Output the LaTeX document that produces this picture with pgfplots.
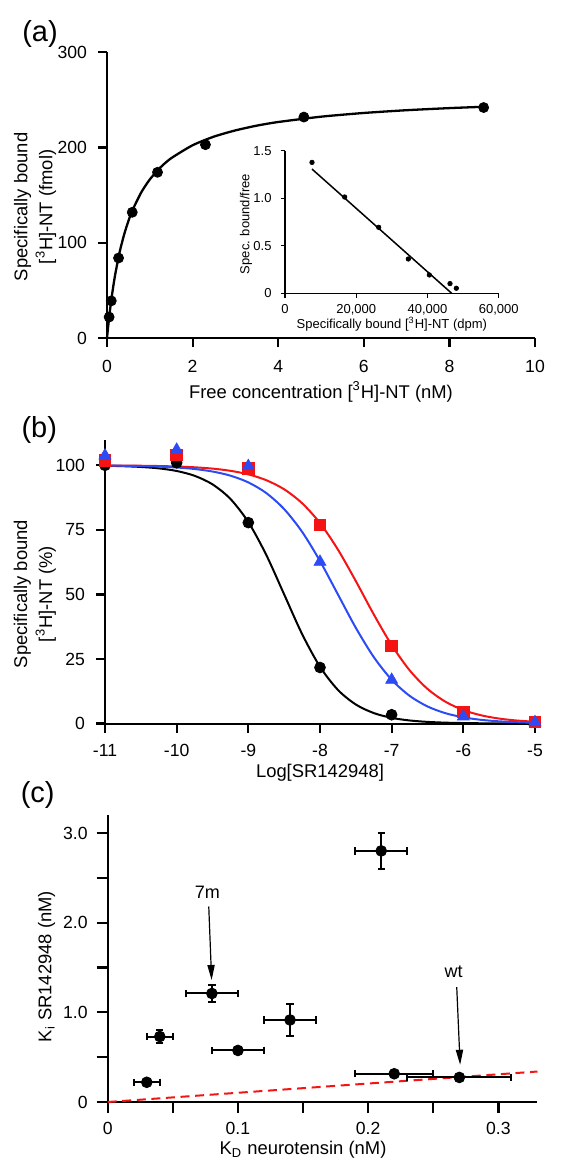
\documentclass[border=0pt]{standalone}
\usepackage{fontspec}
\setmainfont{Liberation Sans}
\usepackage{pgfplots}
\pgfplotsset{compat=1.18}
\usetikzlibrary{arrows.meta}

\definecolor{ntRed}{RGB}{245,20,20}
\definecolor{ntBlue}{RGB}{45,75,245}

\pgfplotsset{
  panel/.style={
    scale only axis,
    anchor=south west,
    axis lines=left,
    axis line style={-, line width=1pt},
    xtick align=outside, ytick align=outside,
    major tick length=4.5pt,
    minor tick num=0,
    major tick style={black, line width=1.1pt},
    tick label style={font=\fontsize{8.8}{10.5}\selectfont},
    label style={font=\fontsize{9.2}{12.5}\selectfont},
    clip=false,
  },
  inset/.style={
    scale only axis,
    anchor=south west,
    axis lines=left,
    axis line style={-, line width=0.65pt},
    xtick align=outside, ytick align=outside,
    major tick length=2.2pt,
    major tick style={black, line width=0.7pt},
    tick label style={font=\fontsize{6.5}{7.5}\selectfont},
    label style={font=\fontsize{6.5}{7.5}\selectfont},
    scaled ticks=false,
    clip=false,
  },
}

\begin{document}
\begin{tikzpicture}
\useasboundingbox (0,0) rectangle (281.5pt,-581pt);

%% (a) saturation binding
\begin{axis}[panel,
  at={(53.5pt,-169pt)}, width=214pt, height=142.85pt,
  xmin=0, xmax=10, ymin=0, ymax=300,
  xtick={0,2,4,6,8,10}, xticklabels={0,2,4,6,8,10},
  ytick={0,100,200,300}, yticklabels={0,100,200,300},
  xticklabel style={yshift=-3pt}, yticklabel style={xshift=-2pt},
  xlabel={Free concentration {[}\textsuperscript{3}H{]}-NT (nM)},
  ylabel={Specifically bound\\{[}\textsuperscript{3}H{]}-NT (fmol)},
  xlabel style={at={(axis description cs:0.5,-0.189)}, anchor=center},
  ylabel style={at={(axis description cs:-0.168,0.459)}, anchor=center, align=center},
]
\addplot[black, line width=1.15pt, smooth, tension=0.4] coordinates {
  (0,0) (0.025,11.2) (0.05,21.5) (0.075,31.0) (0.1,39.7) (0.15,55.3) (0.2,68.8)
  (0.3,91.1) (0.4,108.6) (0.5,122.9) (0.6,134.6) (0.8,152.9) (1.0,166.5)
  (1.25,179.2) (1.5,188.8) (2,202.4) (2.5,211.5) (3,218.0) (3.5,223.0)
  (4,226.8) (5,232.4) (6,236.3) (7,239.2) (8,241.4) (8.8,242.8)};
\addplot[only marks, mark=*, mark size=2.5pt, black] coordinates {
  (0.05,22) (0.1,39) (0.27,84) (0.59,132) (1.18,174) (2.3,203) (4.6,232) (8.8,242)};
\end{axis}

%% (a) inset: Scatchard plot
\begin{axis}[inset,
  at={(142.5pt,-146.65pt)}, width=106.85pt, height=71.3pt,
  xmin=0, xmax=60000, ymin=0, ymax=1.5,
  xtick={0,20000,40000,60000}, xticklabels={0,{20,000},{40,000},{60,000}},
  ytick={0,0.5,1,1.5}, yticklabels={0,0.5,1.0,1.5},
  yticklabel style={xshift=-1pt},
  xlabel={Specifically bound {[}\textsuperscript{3}H{]}-NT (dpm)},
  ylabel={Spec. bound/free},
  xlabel style={at={(axis description cs:0.5,-0.215)}, anchor=center},
  ylabel style={at={(axis description cs:-0.183,0.486)}, anchor=center},
]
\addplot[black, line width=0.75pt] coordinates {(7580,1.307) (46800,0)};
\addplot[only marks, mark=*, mark size=1.1pt, black] coordinates {
  (7580,1.377) (16750,1.013) (26300,0.694) (34630,0.361)
  (40530,0.193) (46330,0.102) (48110,0.053)};
\end{axis}

%% (b) competition curves
\begin{axis}[panel,
  at={(52.5pt,-361.75pt)}, width=215pt, height=142pt,
  xmin=-11, xmax=-5, ymin=0, ymax=110,
  xtick={-11,-10,-9,-8,-7,-6,-5}, xticklabels={-11,-10,-9,-8,-7,-6,-5},
  ytick={0,25,50,75,100}, yticklabels={0,25,50,75,100},
  xticklabel style={yshift=-2.5pt}, yticklabel style={xshift=-2pt},
  xlabel={Log{[}SR142948{]}},
  ylabel={Specifically bound\\{[}\textsuperscript{3}H{]}-NT (\%)},
  xlabel style={at={(axis description cs:0.5,-0.174)}, anchor=center},
  ylabel style={at={(axis description cs:-0.163,0.456)}, anchor=center, align=center},
]
\addplot[black, line width=1pt, smooth] coordinates {
  (-11,99.82) (-10.75,99.67) (-10.5,99.37) (-10.25,98.83) (-10,97.81)
  (-9.75,95.95) (-9.5,92.64) (-9.25,86.99) (-9,78.02) (-8.75,65.32)
  (-8.5,50) (-8.25,34.67) (-8,21.99) (-7.75,13.02) (-7.5,7.36)
  (-7.25,4.05) (-7,2.19) (-6.75,1.18) (-6.5,0.63) (-6.25,0.33)
  (-6,0.18) (-5.75,0.09) (-5.5,0.05) (-5.25,0.03) (-5,0.01)};
\addplot[ntRed, line width=1pt, smooth] coordinates {
  (-11,99.94) (-10.75,99.90) (-10.5,99.84) (-10.25,99.73) (-10,99.55)
  (-9.75,99.24) (-9.5,98.73) (-9.25,97.88) (-9,96.50) (-8.75,94.25)
  (-8.5,90.72) (-8.25,85.34) (-8,77.62) (-7.75,67.38) (-7.5,55.16)
  (-7.25,42.28) (-7,30.39) (-6.75,20.64) (-6.5,13.41) (-6.25,8.45)
  (-6,5.21) (-5.75,3.17) (-5.5,1.91) (-5.25,1.15) (-5,0.69)};
\addplot[ntBlue, line width=1pt, smooth] coordinates {
  (-11,99.90) (-10.75,99.83) (-10.5,99.71) (-10.25,99.50) (-10,99.16)
  (-9.75,98.58) (-9.5,97.60) (-9.25,96.00) (-9,93.39) (-8.75,89.27)
  (-8.5,83.04) (-8.25,74.26) (-8,62.94) (-7.75,50) (-7.5,37.06)
  (-7.25,25.75) (-7,16.96) (-6.75,10.73) (-6.5,6.61) (-6.25,4.00)
  (-6,2.40) (-5.75,1.42) (-5.5,0.84) (-5.25,0.50) (-5,0.29)};
\addplot[only marks, mark=*, mark size=2.7pt, black] coordinates {
  (-11,100) (-10,101) (-9,77.8) (-8,21.7) (-7,3.4)};
\addplot[only marks, mark=square*, mark size=2.9pt, ntRed] coordinates {
  (-11,102) (-10,104) (-9,98.8) (-8,77) (-7,30) (-6,4.5) (-5,0.6)};
\addplot[only marks, mark=triangle*, mark size=3.4pt, ntBlue] coordinates {
  (-11,103.8) (-10,106) (-9,99.7) (-8,62.6) (-7,16.9) (-6,2.7) (-5,0.5)};
\end{axis}

%% (c) Ki versus KD
\begin{axis}[panel,
  at={(53.85pt,-551pt)}, width=214.9pt, height=143.5pt,
  major tick length=5.5pt,
  xmin=0, xmax=0.33, ymin=0, ymax=3.2,
  xtick={0,0.05,0.1,0.15,0.2,0.25,0.3}, xticklabels={0,,0.1,,0.2,,0.3},
  ytick={0,0.5,1,1.5,2,2.5,3}, yticklabels={0,,1.0,,2.0,,3.0},
  xticklabel style={yshift=-1pt}, yticklabel style={xshift=-1pt},
  xlabel={K\textsubscript{D} neurotensin (nM)},
  ylabel={K\textsubscript{i} SR142948 (nM)},
  xlabel style={at={(axis description cs:0.4545,-0.167)}, anchor=center},
  ylabel style={at={(axis description cs:-0.142,0.472)}, anchor=center},
]
\addplot[ntRed, line width=1pt, dash pattern=on 4.5pt off 2.8pt] coordinates {(0,0) (0.33,0.34)};
\addplot[only marks, mark=*, mark size=2.7pt, black,
  error bars/.cd, x dir=both, x explicit, y dir=both, y explicit,
  error bar style={line width=1pt, black},
  error mark options={rotate=90, line width=1pt, mark size=1.85pt, black}]
  table[x=kd, y=ki, x error=ekd, y error=eki] {
  kd    ki     ekd   eki
  0.03  0.22   0.01  0
  0.04  0.73   0.01  0.07
  0.08  1.21   0.02  0.1
  0.10  0.575  0.02  0
  0.14  0.915  0.02  0.18
  0.21  2.80   0.02  0.2
  0.22  0.315  0.03  0
  0.27  0.274  0.04  0
};
\draw[line width=0.6pt, -{Triangle[length=7.5pt, width=3.6pt]}]
  (axis cs:0.0776,2.18) -- (axis cs:0.0798,1.36);
\draw[line width=0.6pt, -{Triangle[length=7.5pt, width=3.6pt]}]
  (axis cs:0.268,1.28) -- (axis cs:0.2706,0.415);
\node[font=\fontsize{9}{11}\selectfont] at (axis cs:0.0765,2.34) {7m};
\node[font=\fontsize{9}{11}\selectfont] at (axis cs:0.2656,1.453) {wt};
\end{axis}

\node[font=\fontsize{14.5}{17}\selectfont] at (20pt,-17pt) {(a)};
\node[font=\fontsize{14.5}{17}\selectfont] at (19.65pt,-215pt) {(b)};
\node[font=\fontsize{14.5}{17}\selectfont] at (18.85pt,-397.5pt) {(c)};
\end{tikzpicture}
\end{document}
